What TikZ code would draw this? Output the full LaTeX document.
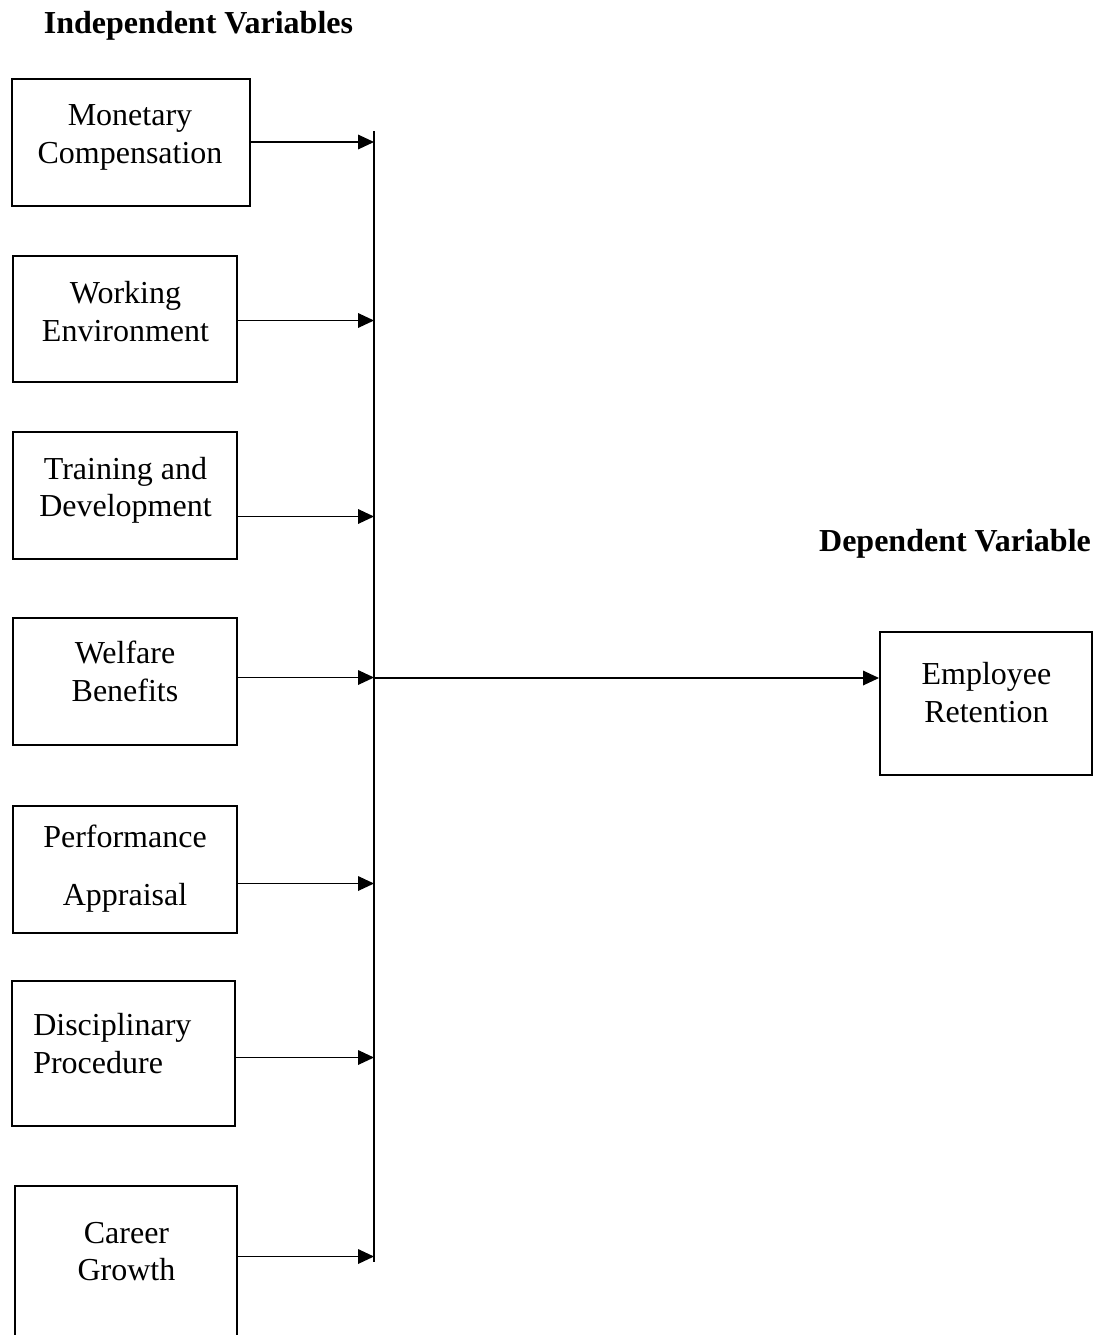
\documentclass[tikz,border=0pt]{standalone}
\usepackage{fontspec}
\setmainfont{Liberation Serif}
\usetikzlibrary{arrows.meta}

\begin{document}
\begin{tikzpicture}[x=0.75pt,y=-0.75pt,>={Triangle[length=12pt,width=11pt]}]
        \tikzstyle{varbox} = [rectangle, draw, line width=1.5pt, inner sep=0pt]
        \tikzstyle{vartext} = [align=center, inner sep=0pt, font=\fontsize{24}{28}\selectfont]
        \tikzstyle{heading} = [inner sep=0pt, font=\fontsize{24}{28}\selectfont\bfseries]
        \tikzstyle{arrow} = [->, line width=0.9pt]

        \useasboundingbox (0,0) rectangle (1106,1335);
        \clip (0,0) rectangle (1106,1335);

        % Headings
        \node[heading] (indep) at (198.5,25.5) {Independent Variables};
        \node[heading] (dep) at (955,543.5) {Dependent Variable};

        % Independent variable boxes
        \node[varbox, minimum width=178.5pt, minimum height=95.25pt] (monetary) at (131,142.5) {};
        \node[varbox, minimum width=168pt, minimum height=94.5pt] (working) at (125,319) {};
        \node[varbox, minimum width=168pt, minimum height=95.25pt] (training) at (125,495.5) {};
        \node[varbox, minimum width=168pt, minimum height=95.25pt] (welfare) at (125,681.5) {};
        \node[varbox, minimum width=168pt, minimum height=95.25pt] (performance) at (125,869.5) {};
        \node[varbox, minimum width=167.25pt, minimum height=108.75pt] (disciplinary) at (123.5,1053.5) {};
        \node[varbox, minimum width=166.5pt, minimum height=119.25pt] (career) at (126,1265.5) {};

        % Box texts
        \node[vartext] (monetarytext) at (130,137.5) {Monetary\\Compensation};
        \node[vartext] (workingtext) at (125.5,311.5) {Working\\Environment};
        \node[vartext] (trainingtext) at (125.5,490.5) {Training and\\Development};
        \node[vartext] (welfaretext) at (125,671.5) {Welfare\\Benefits};
        \node[vartext] (performancetext) at (125,868.5) {Performance\\[15.75pt]Appraisal};
        \node[vartext, align=left, anchor=west] (disciplinarytext) at (33,1043.5) {Disciplinary\\Procedure};
        \node[vartext] (careertext) at (126.5,1251.5) {Career\\Growth};

        % Dependent variable box
        \node[varbox, minimum width=159pt, minimum height=107.25pt] (retention) at (986,703.5) {};
        \node[vartext] (retentiontext) at (986.5,692.5) {Employee\\Retention};

        % Spine points
        \coordinate (spinetop) at (374,131);
        \coordinate (spinebottom) at (374,1262);
        \coordinate (s1) at (374,142);
        \coordinate (s2) at (374,320.5);
        \coordinate (s3) at (374,516.5);
        \coordinate (s4) at (374,677.5);
        \coordinate (s5) at (374,883.5);
        \coordinate (s6) at (374,1057.5);
        \coordinate (s7) at (374,1256.5);
        \coordinate (hub) at (374,678);

        % Vertical spine
        \draw[line width=0.9pt] (spinetop) -- (spinebottom);

        % Arrows into the spine
        \draw[arrow] (s1 -| monetary.east) -- (s1);
        \draw[arrow] (s2 -| working.east) -- (s2);
        \draw[arrow] (s3 -| training.east) -- (s3);
        \draw[arrow] (s4 -| welfare.east) -- (s4);
        \draw[arrow] (s5 -| performance.east) -- (s5);
        \draw[arrow] (s6 -| disciplinary.east) -- (s6);
        \draw[arrow] (s7 -| career.east) -- (s7);

        % Spine to dependent variable
        \draw[arrow] (hub) -- (hub -| retention.west);
\end{tikzpicture}
\end{document}
